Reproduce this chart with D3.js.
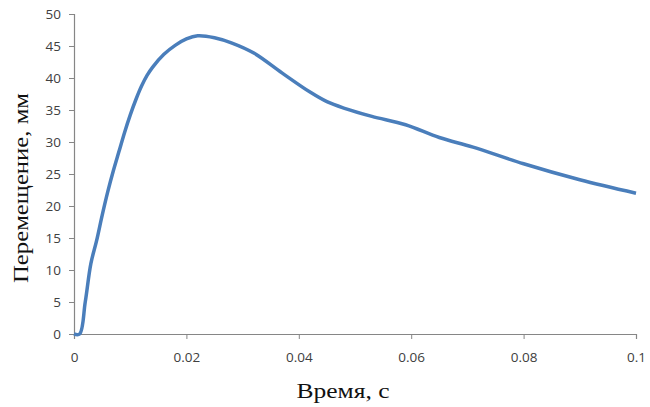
<!DOCTYPE html>
<html>
<head>
<meta charset="utf-8">
<script src="https://cdn.jsdelivr.net/npm/d3@7"></script>
<style>
  body { margin: 0; background: #fff; }
  svg { display: block; }
</style>
</head>
<body>
<div id="chart"></div>
<script>
// time, s
var times = [0, 0.001, 0.002, 0.003, 0.004, 0.005, 0.006, 0.007, 0.008, 0.009, 0.010, 0.011, 0.012,
  0.013, 0.014, 0.016, 0.018, 0.020, 0.022, 0.025, 0.028, 0.032, 0.037, 0.042, 0.045, 0.048, 0.053,
  0.059, 0.065, 0.071, 0.080, 0.090, 0.100];
// displacement, mm
var values = [0, 0, 5, 11, 14.5, 18.5, 22.2, 25.5, 28.5, 31.5, 34.2, 36.6, 38.7,
  40.4, 41.7, 43.7, 45.1, 46.1, 46.6, 46.3, 45.5, 43.9, 40.8, 37.8, 36.3, 35.3, 34.0,
  32.7, 30.7, 29.2, 26.6, 24.1, 22];
var xTicks = [0, 0.02, 0.04, 0.06, 0.08, 0.1];
var yTicks = [0, 5, 10, 15, 20, 25, 30, 35, 40, 45, 50];

var W = 650, H = 407;
var m = { left: 74, right: 14, top: 14, bottom: 73 };

var svg = d3.select('#chart').append('svg').attr('width', W).attr('height', H);

var x = d3.scaleLinear().domain([0, 0.1]).range([m.left, W - m.right]);
var y = d3.scaleLinear().domain([0, 50]).range([H - m.bottom, m.top]);

var axisColor = '#868686';

var gx = svg.append('g').attr('transform', 'translate(0,' + (H - m.bottom) + ')')
  .call(d3.axisBottom(x).tickValues(xTicks).tickSize(5).tickPadding(13)
    .tickFormat(function (d) { return d === 0 ? '0' : String(+d.toFixed(2)); }));
var gy = svg.append('g').attr('transform', 'translate(' + m.left + ',0)')
  .call(d3.axisLeft(y).tickValues(yTicks).tickSize(5).tickPadding(8));

[gx, gy].forEach(function (g) {
  g.select('.domain').attr('stroke', axisColor).attr('stroke-width', 1.2);
  g.selectAll('.tick line').attr('stroke', axisColor);
  g.selectAll('.tick text').attr('fill', '#404040').attr('font-size', '13.5px')
    .attr('font-family', '"Open Sans", "Liberation Sans", sans-serif');
});

var line = d3.line()
  .x(function (d, i) { return x(times[i]); })
  .y(function (d) { return y(d); })
  .curve(d3.curveCatmullRom.alpha(0.5));

svg.append('path').datum(values)
  .attr('d', line)
  .attr('fill', 'none')
  .attr('stroke', '#4a7ebb')
  .attr('stroke-width', 3.5)
  .attr('stroke-linejoin', 'round');

svg.append('text')
  .attr('x', 343).attr('y', 398)
  .attr('text-anchor', 'middle')
  .attr('font-family', '"Liberation Serif", "Times New Roman", serif')
  .attr('font-size', '22px').attr('fill', '#111')
  .attr('textLength', 93).attr('lengthAdjust', 'spacingAndGlyphs')
  .text('Время, с');

svg.append('text')
  .attr('transform', 'translate(28,188) rotate(-90)')
  .attr('text-anchor', 'middle')
  .attr('font-family', '"Liberation Serif", "Times New Roman", serif')
  .attr('font-size', '22px').attr('fill', '#111')
  .attr('textLength', 190).attr('lengthAdjust', 'spacingAndGlyphs')
  .text('Перемещение, мм');
</script>
</body>
</html>
